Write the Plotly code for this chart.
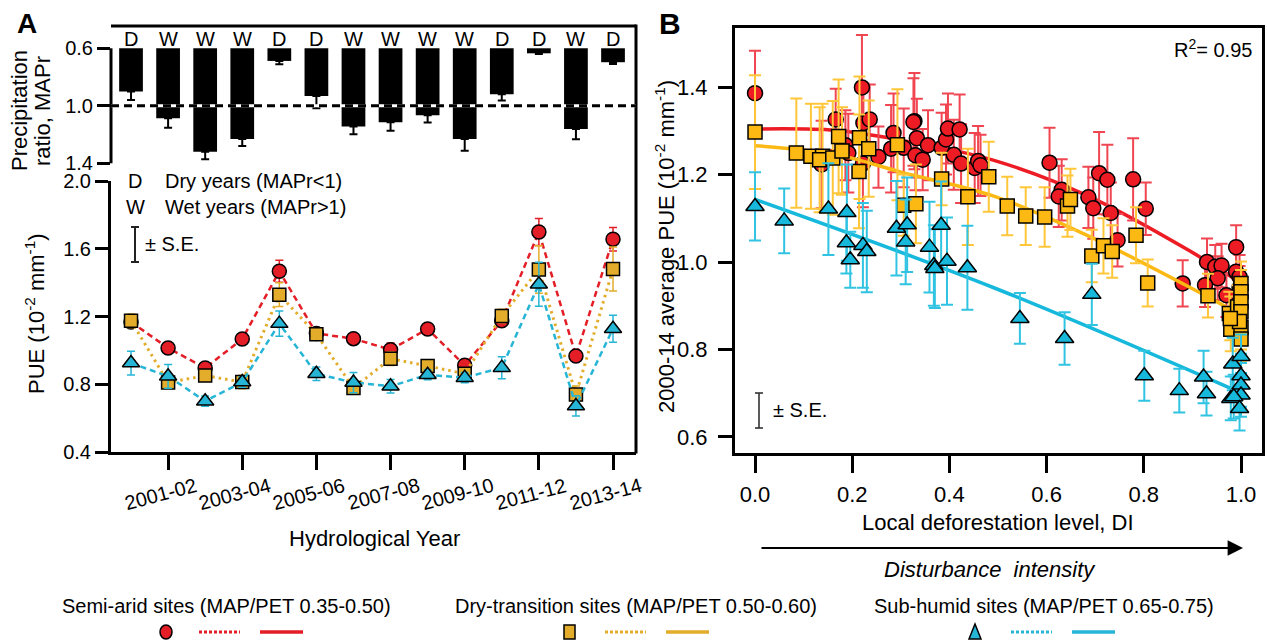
import plotly.graph_objects as go

W, H = 1267, 643
FONT = "Liberation Sans, Arial, sans-serif"


def fx(p):
    return p / W


def fy(p):
    return 1 - p / H


# ---------------- Panel A data ----------------
years = ["2000-01", "2001-02", "2002-03", "2003-04", "2004-05", "2005-06", "2006-07",
         "2007-08", "2008-09", "2009-10", "2010-11", "2011-12", "2012-13", "2013-14"]
year_class = ["D", "W", "W", "W", "D", "D", "W", "W", "W", "W", "D", "D", "W", "D"]
mapr = [0.90, 1.087, 1.319, 1.231, 0.688, 0.932, 1.145, 1.115, 1.066, 1.231, 0.92, 0.635, 1.161, 0.697]
mapr_se = [0.06, 0.065, 0.053, 0.049, 0.023, 0.085, 0.053, 0.058, 0.051, 0.081, 0.044, 0.005, 0.072, 0.012]

pue_semi = [1.168, 1.014, 0.896, 1.067, 1.467, 1.10, 1.069, 1.004, 1.126, 0.912, 1.175, 1.699, 0.967, 1.656]
pue_semi_se = [0.03, 0.025, 0.02, 0.02, 0.065, 0.02, 0.02, 0.04, 0.03, 0.03, 0.03, 0.08, 0.03, 0.07]
pue_dry = [1.175, 0.81, 0.851, 0.813, 1.329, 1.095, 0.778, 0.951, 0.908, 0.862, 1.203, 1.478, 0.739, 1.48]
pue_dry_se = [0.04, 0.03, 0.03, 0.04, 0.07, 0.03, 0.03, 0.04, 0.03, 0.03, 0.04, 0.14, 0.05, 0.13]
pue_sub = [0.925, 0.847, 0.70, 0.813, 1.158, 0.862, 0.81, 0.788, 0.856, 0.839, 0.898, 1.39, 0.672, 1.128]
pue_sub_se = [0.07, 0.07, 0.03, 0.03, 0.075, 0.04, 0.06, 0.04, 0.03, 0.03, 0.065, 0.13, 0.06, 0.08]

# ---------------- Panel B data ----------------
red_di = [0.0, 0.22, 0.166, 0.223, 0.236, 0.186, 0.192, 0.137, 0.222, 0.254, 0.285, 0.28, 0.306,
          0.328, 0.326, 0.333, 0.33, 0.345, 0.356, 0.384, 0.393, 0.397, 0.421, 0.409, 0.424, 0.452,
          0.459, 0.464, 0.606, 0.631, 0.625, 0.708, 0.725, 0.686, 0.696, 0.732, 0.778, 0.804, 0.746,
          0.88, 0.99, 0.93, 0.947, 0.96, 0.952, 0.926, 0.97, 0.99, 0.997, 0.997]
red_pue = [1.386, 1.399, 1.326, 1.318, 1.326, 1.267, 1.249, 1.223, 1.225, 1.24, 1.295, 1.259, 1.261,
           1.322, 1.32, 1.283, 1.244, 1.234, 1.267, 1.261, 1.28, 1.305, 1.303, 1.245, 1.225, 1.215,
           1.231, 1.221, 1.227, 1.165, 1.15, 1.203, 1.188, 1.148, 1.123, 1.112, 1.189, 1.122, 1.05,
           0.951, 1.034, 1.0, 0.989, 0.992, 0.963, 0.947, 0.924, 0.978, 0.966, 0.941]
red_se = [0.097, 0.12, 0.07, 0.09, 0.08, 0.08, 0.09, 0.10, 0.10, 0.07, 0.09, 0.10, 0.09,
          0.11, 0.10, 0.09, 0.08, 0.07, 0.08, 0.08, 0.08, 0.08, 0.08, 0.08, 0.09, 0.08,
          0.08, 0.07, 0.08, 0.07, 0.07, 0.094, 0.08, 0.07, 0.07, 0.07, 0.094, 0.06, 0.06,
          0.053, 0.05, 0.054, 0.05, 0.05, 0.05, 0.05, 0.05, 0.05, 0.05, 0.05]

yel_di = [0.0, 0.085, 0.115, 0.139, 0.133, 0.16, 0.172, 0.179, 0.215, 0.234, 0.214, 0.293, 0.384,
          0.306, 0.331, 0.438, 0.481, 0.519, 0.557, 0.596, 0.643, 0.649, 0.693, 0.717, 0.735,
          0.784, 0.808, 0.932, 0.976, 0.979, 0.993, 1.0, 1.0, 1.0, 1.0, 1.0, 1.0, 0.997, 0.978]
yel_pue = [1.297, 1.249, 1.242, 1.242, 1.234, 1.238, 1.287, 1.254, 1.284, 1.259, 1.207, 1.268, 1.19,
           1.13, 1.133, 1.149, 1.195, 1.128, 1.105, 1.103, 1.128, 1.143, 1.014, 1.037, 1.024,
           1.061, 0.952, 0.923, 0.882, 0.846, 0.897, 0.951, 0.932, 0.909, 0.886, 0.85, 0.824, 0.864, 0.871]
yel_se = [0.13, 0.125, 0.12, 0.12, 0.12, 0.13, 0.13, 0.10, 0.14, 0.11, 0.13, 0.127, 0.06,
          0.07, 0.09, 0.11, 0.08, 0.067, 0.066, 0.068, 0.07, 0.07, 0.06, 0.063, 0.06,
          0.064, 0.054, 0.05, 0.05, 0.05, 0.05, 0.05, 0.05, 0.05, 0.05, 0.05, 0.05, 0.05, 0.05]

cya_di = [0.0, 0.06, 0.151, 0.189, 0.188, 0.196, 0.222, 0.23, 0.291, 0.313, 0.31, 0.383, 0.359,
          0.368, 0.395, 0.437, 0.545, 0.637, 0.693, 0.801, 0.873, 0.923, 0.929, 0.983, 1.0, 1.0,
          1.0, 1.0, 0.979, 0.985, 0.997, 0.37]
cya_pue = [1.127, 1.094, 1.121, 1.113, 1.044, 1.005, 1.038, 1.024, 1.077, 1.085, 1.046, 1.084, 1.034,
           0.992, 1.002, 0.987, 0.871, 0.825, 0.926, 0.74, 0.706, 0.737, 0.699, 0.767, 0.784, 0.74,
           0.719, 0.696, 0.688, 0.692, 0.665, 0.985]
cya_se = [0.078, 0.074, 0.105, 0.11, 0.07, 0.064, 0.097, 0.093, 0.108, 0.108, 0.097, 0.10, 0.104,
          0.092, 0.10, 0.096, 0.058, 0.06, 0.07, 0.057, 0.05, 0.06, 0.05, 0.06, 0.05, 0.05,
          0.05, 0.05, 0.05, 0.05, 0.05, 0.09]

# fitted curves
fit_red_di = [0.0, 0.165, 0.302, 0.49, 0.689, 0.895, 0.99]
fit_red = [1.304, 1.301, 1.278, 1.233, 1.149, 1.025, 0.959]
fit_yel_di = [0.0, 0.165, 0.302, 0.49, 0.689, 0.922, 0.97]
fit_yel = [1.266, 1.246, 1.205, 1.151, 1.058, 0.926, 0.897]
fit_cya_di = [0.0, 0.494, 0.979]
fit_cya = [1.143, 0.94, 0.711]

legend_labels = ["Semi-arid sites (MAP/PET 0.35-0.50)",
                 "Dry-transition sites (MAP/PET 0.50-0.60)",
                 "Sub-humid sites (MAP/PET 0.65-0.75)"]

# ---------------- colours ----------------
RED_A, YEL_A, CYA_A = "#E41E26", "#E3AD2B", "#27B5D6"
RED_B, YEL_B, CYA_B = "#ED1C24", "#FDB913", "#16B8DB"
RED_E, YEL_E, CYA_E = "#F04652", "#FFC63A", "#30C4E2"

idx = list(range(len(years)))
fig = go.Figure()

# ---- Panel A: precipitation ratio bars ----
fig.add_trace(go.Bar(
    x=idx, y=[v - 0.6 for v in mapr], base=0.6, width=0.64,
    marker=dict(color="black", line=dict(width=0)),
    error_y=dict(type="data", symmetric=False, array=mapr_se, arrayminus=[0] * len(mapr),
                 color="black", thickness=2, width=4),
    xaxis="x", yaxis="y"))

# ---- Panel A: PUE ----
for vals, se, col, sym, size, dash, lw in [
    (pue_semi, pue_semi_se, RED_A, "circle", 14, "6px,4px", 2.5),
    (pue_dry, pue_dry_se, YEL_A, "square", 13, "2.5px,4px", 3),
    (pue_sub, pue_sub_se, CYA_A, "triangle-up", 15, "6px,4px", 2.5),
]:
    fig.add_trace(go.Scatter(
        x=idx, y=vals, mode="lines+markers",
        line=dict(color=col, width=lw, dash=dash),
        marker=dict(symbol=sym, size=size, color=col, line=dict(color="black", width=1.5)),
        error_y=dict(type="data", array=se, color=col, thickness=1.5, width=4),
        xaxis="x2", yaxis="y2"))

# ---- Panel B ----
for fdi, fv, di, pv, se, col, ecol, sym, size in [
    (fit_red_di, fit_red, red_di, red_pue, red_se, RED_B, RED_E, "circle", 15),
    (fit_yel_di, fit_yel, yel_di, yel_pue, yel_se, YEL_B, YEL_E, "square", 14),
    (fit_cya_di, fit_cya, cya_di, cya_pue, cya_se, CYA_B, CYA_E, "triangle-up", 16),
]:
    fig.add_trace(go.Scatter(
        x=fdi, y=fv, mode="lines", line=dict(color=col, width=3.5, shape="spline"),
        xaxis="x3", yaxis="y3"))
    fig.add_trace(go.Scatter(
        x=di, y=pv, mode="markers",
        marker=dict(symbol=sym, size=size, color=col, line=dict(color="black", width=1.5)),
        error_y=dict(type="data", array=se, color=ecol, thickness=2, width=6),
        xaxis="x3", yaxis="y3"))

tickfont = dict(family=FONT, size=22, color="black")
tickfont_a = dict(family=FONT, size=20, color="black")
axA_dom = [fx(111), fx(636)]

layout = dict(
    template="none",
    width=W, height=H, margin=dict(l=0, r=0, t=0, b=0, pad=0), autosize=False,
    paper_bgcolor="white", plot_bgcolor="rgba(0,0,0,0)",
    showlegend=False, font=dict(family=FONT, color="black"),
    xaxis=dict(domain=axA_dom, range=[-0.54, 13.62], visible=False, anchor="y"),
    yaxis=dict(domain=[fy(165), fy(26)], range=[1.412, 0.445], anchor="x",
               tickvals=[0.6, 1.0, 1.4], tickformat=".1f", ticks="outside", ticklen=13,
               tickwidth=2.5, tickcolor="black", showline=False, showgrid=False,
               zeroline=False, tickfont=tickfont_a, automargin=False),
    xaxis2=dict(domain=axA_dom, range=[-0.54, 13.62], anchor="y2",
                tickvals=[1, 3, 5, 7, 9, 11, 13], showticklabels=False, ticks="outside",
                ticklen=15, tickwidth=2.5, tickcolor="black", showline=True, linewidth=3,
                linecolor="black", showgrid=False, zeroline=False, automargin=False),
    yaxis2=dict(domain=[fy(452), fy(181)], range=[0.4, 2.0], anchor="x2",
                tickvals=[0.4, 0.8, 1.2, 1.6, 2.0], tickformat=".1f", ticks="outside",
                ticklen=13, tickwidth=2.5, tickcolor="black", showline=True, linewidth=3,
                linecolor="black", showgrid=False, zeroline=False, tickfont=tickfont_a,
                automargin=False),
    xaxis3=dict(domain=[fx(735), fx(1262)], range=[-0.0412, 1.0432], anchor="y3",
                tickvals=[0, 0.2, 0.4, 0.6, 0.8, 1.0], tickformat=".1f", ticks="outside",
                ticklen=17, tickwidth=2.5, tickcolor="black", showline=True, mirror=True,
                linewidth=3, linecolor="black", showgrid=False, zeroline=False,
                tickfont=tickfont, ticklabelstandoff=3, automargin=False),
    yaxis3=dict(domain=[fy(453), fy(28)], range=[0.5634, 1.5349], anchor="x3",
                tickvals=[0.6, 0.8, 1.0, 1.2, 1.4], tickformat=".1f", ticks="outside",
                ticklen=14, tickwidth=2.5, tickcolor="black", showline=True, mirror=True,
                linewidth=3, linecolor="black", showgrid=False, zeroline=False,
                tickfont=tickfont, ticklabelstandoff=6, automargin=False),
)


def ann(text, x, y, size=22, xanchor="center", yanchor="middle", angle=0, **kw):
    d = dict(text=text, x=x, y=y, xref="paper", yref="paper", showarrow=False,
             font=dict(family=FONT, size=size, color="black"),
             xanchor=xanchor, yanchor=yanchor, textangle=angle)
    d.update(kw)
    return d


anns = []
# D / W labels over bars
for i, c in zip(idx, year_class):
    anns.append(dict(text=c, x=i, y=0.535, xref="x", yref="y", showarrow=False,
                     xanchor="center", yanchor="middle",
                     font=dict(family=FONT, size=20, color="black")))
# rotated year tick labels
for i in idx[1::2]:
    anns.append(dict(text=years[i], x=i - 0.2, y=fy(494), xref="x2", yref="paper",
                     showarrow=False, textangle=-15, xanchor="center", yanchor="middle",
                     font=dict(family=FONT, size=20, color="black")))

anns += [
    ann("<b>A</b>", fx(27), fy(23), size=28),
    ann("<b>B</b>", fx(670), fy(23), size=30),
    ann("Precipitation", fx(19), fy(111), angle=-90),
    ann("ratio, MAPr", fx(42), fy(111), angle=-90),
    ann("PUE (10<sup>-2</sup> mm<sup>-1</sup>)", fx(35), fy(314), angle=-90),
    ann("D", fx(135), fy(181), size=20),
    ann("Dry years (MAPr&lt;1)", fx(163), fy(181), size=20, xanchor="left"),
    ann("W", fx(135), fy(207), size=20),
    ann("Wet years (MAPr&gt;1)", fx(163), fy(207), size=20, xanchor="left"),
    ann("± S.E.", fx(143), fy(244), size=20, xanchor="left"),
    ann("Hydrological Year", fx(374), fy(538)),
    ann("2000-14 average PUE (10<sup>-2</sup> mm<sup>-1</sup>)", fx(665), fy(247), angle=-90),
    ann("Local deforestation level, DI", fx(998), fy(522)),
    ann("<i>Disturbance&nbsp; intensity</i>", fx(990), fy(569)),
    ann("R<sup>2</sup>= 0.95", fx(1213), fy(48), size=20),
    ann("± S.E.", fx(771), fy(410), size=20, xanchor="left"),
    ann(legend_labels[0], fx(226), fy(606), size=20),
    ann(legend_labels[1], fx(636), fy(606), size=20),
    ann(legend_labels[2], fx(1044), fy(606), size=20),
    # arrow
    dict(x=fx(1243), y=fy(548), xref="paper", yref="paper", ax=-483, ay=0,
         axref="pixel", ayref="pixel", showarrow=True, arrowhead=2, arrowsize=1.4,
         arrowwidth=2.2, arrowcolor="black", text=""),
]
layout["annotations"] = anns


def pline(x0, y0, x1, y1, color="black", width=2, dash="solid"):
    return dict(type="line", xref="paper", yref="paper", x0=fx(x0), y0=fy(y0),
                x1=fx(x1), y1=fy(y1), line=dict(color=color, width=width, dash=dash),
                layer="above")


shapes = [
    # panel A frame pieces
    dict(type="line", xref="x domain", yref="y", x0=0, x1=0, y0=0.6, y1=1.4,
         line=dict(color="black", width=3)),
    dict(type="line", xref="x domain", yref="y domain", x0=0, x1=1, y0=1, y1=1,
         line=dict(color="black", width=3)),
    dict(type="line", xref="x domain", yref="paper", x0=1, x1=1, y0=fy(453.5), y1=fy(24.5),
         line=dict(color="black", width=3)),
    # MAPr = 1 reference line (white under black dashes)
    dict(type="line", xref="x domain", yref="y", x0=0, x1=1, y0=1.0, y1=1.0,
         line=dict(color="white", width=3), layer="above"),
    dict(type="line", xref="x domain", yref="y", x0=0, x1=1, y0=1.0, y1=1.0,
         line=dict(color="black", width=3, dash="8px,5px"), layer="above"),
    # S.E. keys
    pline(135, 227, 135, 262, "#222", 2), pline(131, 227, 139, 227, "#222", 2),
    pline(131, 262, 139, 262, "#222", 2),
    pline(759, 393, 759, 428, "#333", 1.6), pline(755, 393, 763, 393, "#333", 1.6),
    pline(755, 428, 763, 428, "#333", 1.6),
    # bottom legend glyphs
    dict(type="circle", xref="paper", yref="paper", x0=fx(160), x1=fx(172), y0=fy(639),
         y1=fy(625), fillcolor=RED_A, line=dict(color="black", width=1.5)),
    pline(199, 632, 240, 632, RED_A, 3, "3px,2px"), pline(260, 632, 303, 632, RED_A, 3.5),
    dict(type="rect", xref="paper", yref="paper", x0=fx(564), x1=fx(575), y0=fy(639),
         y1=fy(625), fillcolor=YEL_A, line=dict(color="black", width=1.5)),
    pline(605, 632, 646, 632, YEL_A, 3, "3px,2px"), pline(666, 632, 709, 632, YEL_A, 3.5),
    dict(type="path", xref="paper", yref="paper",
         path=f"M {fx(969)} {fy(639)} L {fx(981)} {fy(639)} L {fx(975)} {fy(624)} Z",
         fillcolor=CYA_A, line=dict(color="black", width=1.5)),
    pline(1011, 632, 1052, 632, CYA_A, 3, "3px,2px"), pline(1072, 632, 1115, 632, CYA_A, 3.5),
]
layout["shapes"] = shapes

fig.update_layout(**layout)
fig.write_html("out.html", config={"displayModeBar": False},
               post_script="document.body.style.margin='0px';document.body.style.overflow='hidden';")
